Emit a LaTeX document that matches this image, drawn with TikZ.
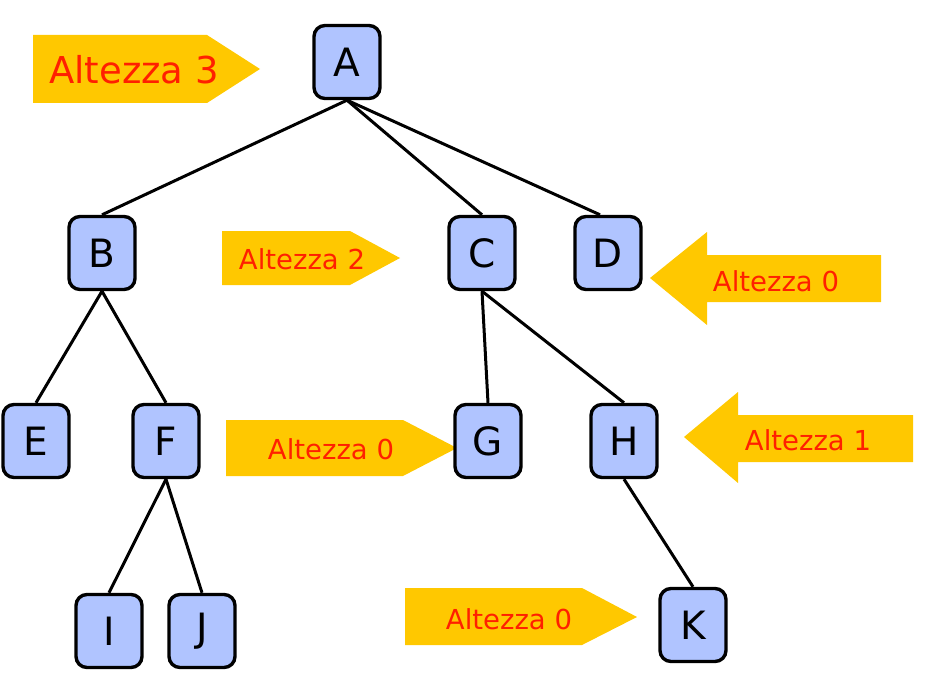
\documentclass[tikz,border=0pt]{standalone}
\usepackage{fontspec}
\setmainfont{DejaVu Sans}
\definecolor{boxblue}{RGB}{176,196,255}
\definecolor{tagyellow}{RGB}{255,200,0}
\definecolor{tagred}{RGB}{255,32,0}
\begin{document}
\begin{tikzpicture}[x=1pt, y=-1pt,
        vertex/.style={rectangle, rounded corners=11pt, draw=black, line width=3.4pt, fill=boxblue,
            minimum width=66pt, minimum height=73pt, inner sep=0pt, font=\fontsize{39}{42}\selectfont},
        edge/.style={black, line width=3pt},
        tag/.style={fill=tagyellow},
        tagtext/.style={text=tagred, inner sep=0pt, font=\fontsize{27.5}{30}\selectfont}
    ]
        \useasboundingbox (0,0) rectangle (925,676);

        % Altezze (frecce gialle)
        \fill[tag] (33,35) -- (207,35) -- (260,69) -- (207,103) -- (33,103) -- cycle;
        \fill[tag] (222,231) -- (350,231) -- (400,258) -- (350,285) -- (222,285) -- cycle;
        \fill[tag] (881,255) -- (707,255) -- (707,232) -- (650,278) -- (707,325) -- (707,302) -- (881,302) -- cycle;
        \fill[tag] (226,420) -- (403,420) -- (457,448) -- (403,476) -- (226,476) -- cycle;
        \fill[tag] (913,415) -- (738,415) -- (738,392) -- (684,437) -- (738,483) -- (738,462) -- (913,462) -- cycle;
        \fill[tag] (405,588) -- (582,588) -- (637,617) -- (582,645) -- (405,645) -- cycle;

        \node[tagtext, font=\fontsize{37}{40}\selectfont] (h3) at (134,70) {Altezza 3};
        \node[tagtext] (h2) at (302,259) {Altezza 2};
        \node[tagtext] (h0d) at (776,281) {Altezza 0};
        \node[tagtext] (h0g) at (331,449) {Altezza 0};
        \node[tagtext] (h1) at (808,440) {Altezza 1};
        \node[tagtext] (h0k) at (509,619) {Altezza 0};

        % Nodi dell'albero
        \node[vertex] (a) at (347,62) {A};
        \node[vertex] (b) at (102,253) {B};
        \node[vertex] (c) at (482,253) {C};
        \node[vertex] (d) at (608,253) {D};
        \node[vertex] (e) at (36,441) {E};
        \node[vertex] (f) at (166,441) {F};
        \node[vertex] (g) at (488,441) {G};
        \node[vertex] (h) at (624,441) {H};
        \node[vertex] (i) at (109,631) {I};
        \node[vertex] (j) at (202,631) {J};
        \node[vertex] (k) at (693,625) {K};

        % Archi
        \draw[edge] (a.south) -- (b.north);
        \draw[edge] (a.south) -- (c.north);
        \draw[edge] (a.south) -- ([xshift=-8pt]d.north);
        \draw[edge] (b.south) -- (e.north);
        \draw[edge] (b.south) -- (f.north);
        \draw[edge] (f.south) -- (i.north);
        \draw[edge] (f.south) -- (j.north);
        \draw[edge] (c.south) -- (g.north);
        \draw[edge] (c.south) -- (h.north);
        \draw[edge] (h.south) -- (k.north);
    \end{tikzpicture}
\end{document}
